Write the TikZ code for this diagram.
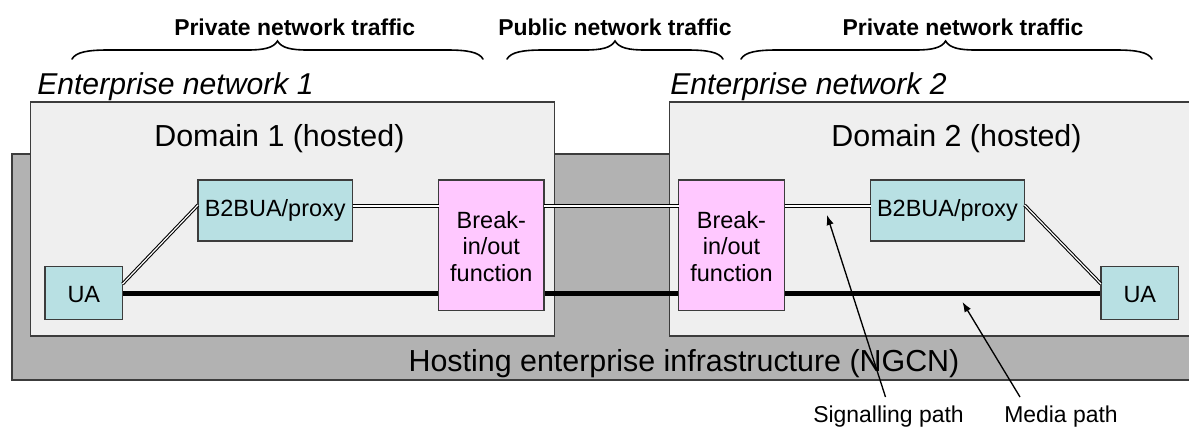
\documentclass[tikz,border=0pt]{standalone}
\usepackage{fontspec}
\setmainfont{Liberation Sans}
\usetikzlibrary{arrows.meta}
\definecolor{hostgrey}{HTML}{B2B2B2}
\definecolor{domgrey}{HTML}{EFEFEF}
\definecolor{tealbox}{HTML}{B8E0E3}
\definecolor{pinkbox}{HTML}{FFC8FF}
\definecolor{edgec}{HTML}{3C3C3C}
\tikzset{
  x=0.75pt,y=-0.75pt,
  area/.style={draw=edgec,line width=0.9pt,inner sep=0pt},
  fnbox/.style={draw=edgec,line width=0.9pt,inner sep=0pt,align=center,font=\fontsize{17.6}{20}\selectfont},
  sigline/.style={draw=black,line width=0.8pt,double=white,double distance=0.9pt},
  medialine/.style={draw=black,line width=3.6pt},
  pointer/.style={draw=black,line width=1pt,-{Latex[length=7.5pt,width=5.5pt]}},
  bracecurve/.style={draw=black,line width=1.2pt,line cap=round},
  heading/.style={font=\bfseries\fontsize{17.2}{20}\selectfont,inner sep=0pt},
  ital/.style={font=\itshape\fontsize{22.6}{26}\selectfont,inner sep=0pt,anchor=west},
  big/.style={font=\fontsize{22.8}{26}\selectfont,inner sep=0pt},
  small/.style={font=\fontsize{17.2}{20}\selectfont,inner sep=0pt},
}
\newcommand{\bracepath}[3]{% left, tip, right
  \draw[bracecurve] (#1,59) .. controls (#1+4,52) and (#1+16,50) .. (#1+36,50)
    -- (#2-30,50) .. controls (#2-14,50) and (#2-4,48) .. (#2,41)
    .. controls (#2+4,48) and (#2+14,50) .. (#2+30,50)
    -- (#3-36,50) .. controls (#3-16,50) and (#3-4,52) .. (#3,59);
}
\begin{document}
\begin{tikzpicture}
\useasboundingbox (0,0) rectangle (1189,426);
% background areas
\fill[hostgrey] (12,154) rectangle (1189,380);
\draw[edgec,line width=0.9pt] (1189,154) -- (12,154) -- (12,380) -- (1189,380);
\node[area,fill=domgrey,minimum width=523.5*0.75pt,minimum height=234*0.75pt] (dom1) at (292.4,219) {};
\node[area,fill=domgrey,minimum width=540*0.75pt,minimum height=234*0.75pt,anchor=west] (dom2) at (669,219) {};
% area labels
\node[big] (hosting) at (684,364) {Hosting enterprise infrastructure (NGCN)};
\node[big] (d1label) at (279.4,138.5) {Domain 1 (hosted)};
\node[big] (d2label) at (956.5,138.5) {Domain 2 (hosted)};
\node[ital] (ent1) at (37,87) {Enterprise network 1};
\node[ital] (ent2) at (670,87) {Enterprise network 2};
% functional boxes
\node[fnbox,fill=tealbox,minimum width=77.5*0.75pt,minimum height=53*0.75pt] (ua1) at (83.8,293.2) {\rule{0pt}{14.8pt}UA};
\node[fnbox,fill=tealbox,minimum width=77.5*0.75pt,minimum height=53*0.75pt] (ua2) at (1139.8,293.2) {\rule{0pt}{14.8pt}UA};
\node[fnbox,fill=tealbox,minimum width=154.5*0.75pt,minimum height=61*0.75pt] (b1) at (275.2,210.5) {B2BUA/proxy};
\node[fnbox,fill=tealbox,minimum width=154*0.75pt,minimum height=61*0.75pt] (b2) at (947.5,210.5) {B2BUA/proxy};
\node[fnbox,fill=pinkbox,minimum width=105.5*0.75pt,minimum height=130.7*0.75pt] (f1) at (491.3,245.4) {\rule{0pt}{14.2pt}Break-\\in/out\\function};
\node[fnbox,fill=pinkbox,minimum width=106*0.75pt,minimum height=130.7*0.75pt] (f2) at (731.5,245.4) {\rule{0pt}{14.2pt}Break-\\in/out\\function};
% connector end points on box edges
\coordinate (ua1s) at (122.5,284);
\coordinate (b1w) at (198,205);
\coordinate (ua2s) at (1101,284);
\coordinate (b2e) at (1024.5,205);
\coordinate (b1e) at (352.5,206);
\coordinate (f1w) at (438.5,206);
\coordinate (f1e) at (544,206);
\coordinate (f2w) at (678.5,206);
\coordinate (f2e) at (784.5,206);
\coordinate (b2w) at (870.5,206);
% signalling path
\draw[sigline] (ua1s) -- (b1w);
\draw[sigline] (b1e) -- (f1w);
\draw[sigline] (f1e) -- (f2w);
\draw[sigline] (f2e) -- (b2w);
\draw[sigline] (b2e) -- (ua2s);
% media path
\draw[medialine] (ua1.east) -- (f1.west |- ua1.east);
\draw[medialine] (f1.east |- ua1.east) -- (f2.west |- ua1.east);
\draw[medialine] (f2.east |- ua1.east) -- (ua2.west);
% pointers
\node[small] (siglabel) at (888.5,417) {Signalling path};
\node[small] (medlabel) at (1061,417) {Media path};
\coordinate (sigtail) at (885.5,397);
\coordinate (sighead) at (827,215);
\coordinate (medtail) at (1020,397);
\coordinate (medhead) at (962.5,302);
\draw[pointer] (sigtail) -- (sighead);
\draw[pointer] (medtail) -- (medhead);
% braces and headings
\bracepath{72}{277.5}{483}
\bracepath{507}{615}{723}
\bracepath{741}{945.6}{1152}
\node[heading] (h1) at (294.7,27) {Private network traffic};
\node[heading] (h2) at (615,27) {Public network traffic};
\node[heading] (h3) at (963,27) {Private network traffic};
\end{tikzpicture}
\end{document}
